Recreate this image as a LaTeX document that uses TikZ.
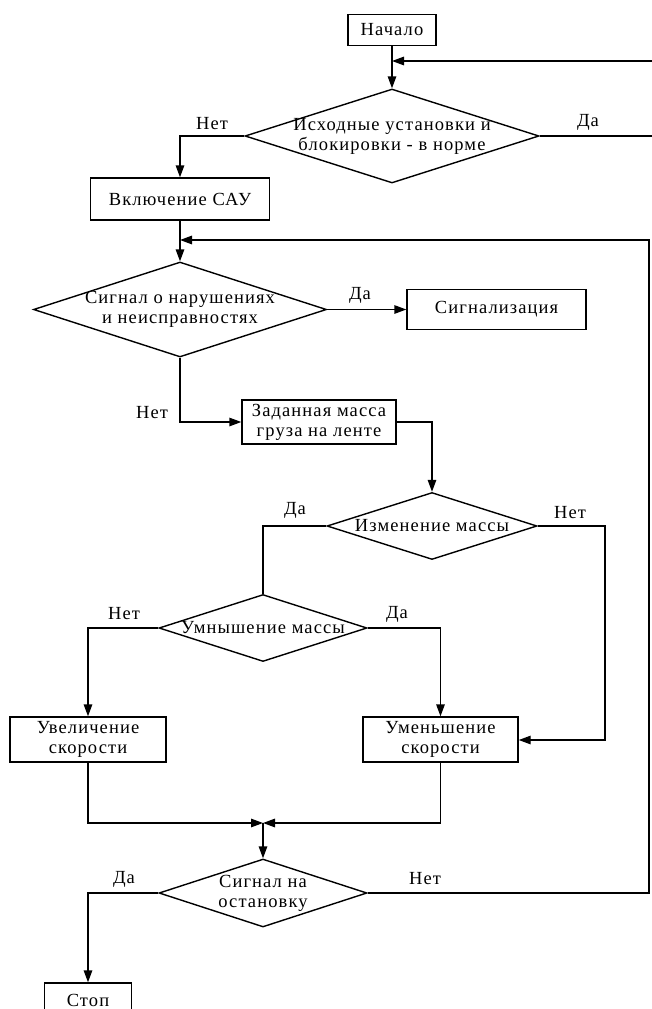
\documentclass[tikz,border=0pt]{standalone}
\usepackage{fontspec}
\setmainfont{Liberation Serif}[LetterSpace=6]
\usetikzlibrary{shapes.geometric,arrows.meta}
\tikzset{
  block/.style={draw, rectangle, inner sep=0pt, align=center},
  decision/.style={draw, diamond, inner sep=0pt},
  dtext/.style={align=center, inner sep=0pt},
  arr/.style={-{Triangle[length=12pt,width=8.5pt]}},
}
\begin{document}
\begin{tikzpicture}[x=1pt, y=-1pt, line width=1.4pt, font=\fontsize{18.5}{20}\selectfont]
      \path[use as bounding box, fill=white] (0,0) rectangle (652,1009);
      \node[block, minimum width=88pt, minimum height=31pt] (start) at (392,30) {Начало};
      \node[decision, minimum width=294pt, minimum height=94pt,
        label={[dtext]center:{Исходные установки и\\блокировки - в норме}}] (d1) at (392,136) {};
      \coordinate (j1) at (392,61);
      \coordinate (e1) at (652,61);
      \coordinate (e2) at (652,136);
      \draw[arr] (start) -- (d1);
      \draw[arr] (e1) -- (j1);
      \draw (d1.east) -- (e2);
      \node (yes1) at (588,122) {Да};
      \node (no1) at (212,124) {Нет};
      \node[block, minimum width=179pt, minimum height=42pt] (sau) at (180,199) {Включение САУ};
      \draw[arr] (d1.west) -| (sau);
      \node[decision, minimum width=293pt, minimum height=95pt,
        label={[dtext]center:{Сигнал о нарушениях\\и неисправностях}}] (d2) at (180,309.5) {};
      \coordinate (j2) at (180,240);
      \draw[arr] (sau) -- (d2);
      \node[block, minimum width=179pt, minimum height=40pt] (sig) at (496.5,309.5) {Сигнализация};
      \draw[arr] (d2.east) -- (sig.west);
      \node (yes2) at (360,295) {Да};
      \node (no2) at (152,413) {Нет};
      \node[block, minimum width=154pt, minimum height=44pt] (mass) at (319,422) {Заданная масса\\груза на ленте};
      \draw[arr] (d2.south) |- (mass.west);
      \node[decision, minimum width=210pt, minimum height=67pt,
        label={[dtext]center:{Изменение массы}}] (d3) at (432,526) {};
      \draw[arr] (mass.east) -| (d3.north);
      \node (yes3) at (295,510) {Да};
      \node (no3) at (570,513) {Нет};
      \node[decision, minimum width=208pt, minimum height=67pt,
        label={[dtext]center:{Умнышение массы}}] (d4) at (263,628) {};
      \draw (d3.west) -| (d4.north);
      \node (no4) at (124,614) {Нет};
      \node (yes4) at (397,614) {Да};
      \node[block, minimum width=156pt, minimum height=45pt] (inc) at (88,739.5) {Увеличение\\скорости};
      \node[block, minimum width=155pt, minimum height=45pt] (dec) at (440.5,739.5) {Уменьшение\\скорости};
      \draw[arr] (d4.west) -| (inc);
      \draw[arr] (d4.east) -| (dec);
      \coordinate (c3) at (605,740);
      \draw[arr] (d3.east) -| (c3) -- (c3 -| dec.east);
      \coordinate (j3) at (263,823);
      \draw[arr] (inc) |- (j3);
      \draw[arr] (dec) |- (j3);
      \node[decision, minimum width=208pt, minimum height=68pt,
        label={[dtext]center:{Сигнал на\\остановку}}] (d5) at (263,893) {};
      \draw[arr] (j3) -- (d5);
      \node (yes5) at (124,879) {Да};
      \node (no5) at (425,879) {Нет};
      \node[block, minimum width=87pt, minimum height=34pt] (stop) at (88,1000) {Стоп};
      \draw[arr] (d5.west) -| (stop);
      \coordinate (r2) at (649,240);
      \draw[arr] (d5.east) -| (r2) -- (j2);
    \end{tikzpicture}
\end{document}
